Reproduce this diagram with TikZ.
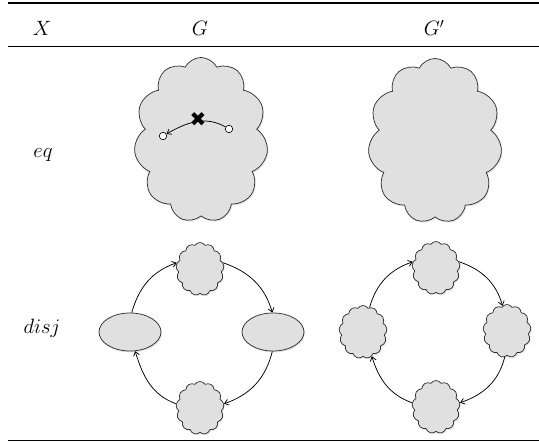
\documentclass[tikz,border=0pt]{standalone}
\usepackage{fontspec}
\newfontfamily\dejavu{DejaVu Sans}
\usetikzlibrary{shapes.geometric,shapes.symbols,arrows.meta,shadows}
\definecolor{cloudfill}{HTML}{E0E0E0}
\definecolor{cloudline}{HTML}{333333}
\begin{document}
\begin{tikzpicture}[x=1pt,y=1pt,
  lbl/.style={inner sep=0pt,font=\fontsize{22.5}{27}\selectfont},
  bigcloud/.style={cloud,cloud puffs=11,cloud puff arc=125,aspect=0.83,draw=cloudline,fill=cloudfill,line width=0.75pt,
     minimum width=134pt,minimum height=165pt,inner sep=0pt,
     drop shadow={opacity=0.2,shadow xshift=1pt,shadow yshift=-1.5pt}},
  smallcloud/.style={cloud,cloud puffs=13,cloud puff arc=115,aspect=0.9,draw=cloudline,fill=cloudfill,line width=0.75pt,
     minimum width=48pt,minimum height=53pt,inner sep=0pt,
     drop shadow={opacity=0.2,shadow xshift=1pt,shadow yshift=-1.5pt}},
  oval/.style={ellipse,draw=cloudline,fill=cloudfill,line width=0.75pt,minimum width=62pt,minimum height=38pt,inner sep=0pt,
     drop shadow={opacity=0.2,shadow xshift=1pt,shadow yshift=-1.5pt}},
  dot/.style={circle,draw=black,fill=white,line width=0.6pt,minimum size=7.5pt,inner sep=0pt},
  conn/.style={-{Straight Barb[length=4pt,width=6pt]},line width=0.75pt},
]
\useasboundingbox (0,0) rectangle (539,442);
% rules
\draw[line width=1.5pt] (8,439) -- (539,439);
\draw[line width=0.8pt] (8,396) -- (539,396);
\draw[line width=1.5pt] (8,1.5) -- (539,1.5);
% header
\node[lbl] (hX) at (42,414) {$X$};
\node[lbl] (hG) at (200,414) {$G$};
\node[lbl] (hGp) at (434,414) {$G'$};
% row labels
\node[lbl] (leq) at (43,287) {$eq$};
\node[lbl] (ldisj) at (42,114) {$disj$};
% eq row
\node[bigcloud] (cG) at (201,302) {};
\node[bigcloud] (cGp) at (435,301) {};
\node[dot] (pL) at (163,306) {};
\node[dot] (pR) at (229,313) {};
\draw[conn] (pR) to[out=150,in=30] (pL);
\node[inner sep=0pt,font=\dejavu\fontsize{20}{20}\selectfont] (xm) at (198,322) {✖};
% disj row, G
\node[oval] (eL) at (130,110) {};
\node[oval] (eR) at (273,110) {};
\node[smallcloud] (gT) at (200,173) {};
\node[smallcloud] (gB) at (200,34) {};
\draw[conn] (eL.85) to[out=74,in=199] (gT.165);
\draw[conn] (gT.15) to[out=-19,in=106] (eR.92);
\draw[conn] (eR.268) to[out=-104,in=19] (gB.10);
\draw[conn] (gB.170) to[out=160,in=-73] (eL.285);
% disj row, G'
\node[smallcloud] (hL) at (363,110) {};
\node[smallcloud] (hR) at (507,111) {};
\node[smallcloud] (hT) at (436,174) {};
\node[smallcloud] (hB) at (436,35) {};
\draw[conn] (hL.75) to[out=74,in=199] (hT.165);
\draw[conn] (hT.15) to[out=-19,in=106] (hR.100);
\draw[conn] (hR.265) to[out=-104,in=19] (hB.10);
\draw[conn] (hB.170) to[out=160,in=-73] (hL.290);
\end{tikzpicture}
\end{document}
